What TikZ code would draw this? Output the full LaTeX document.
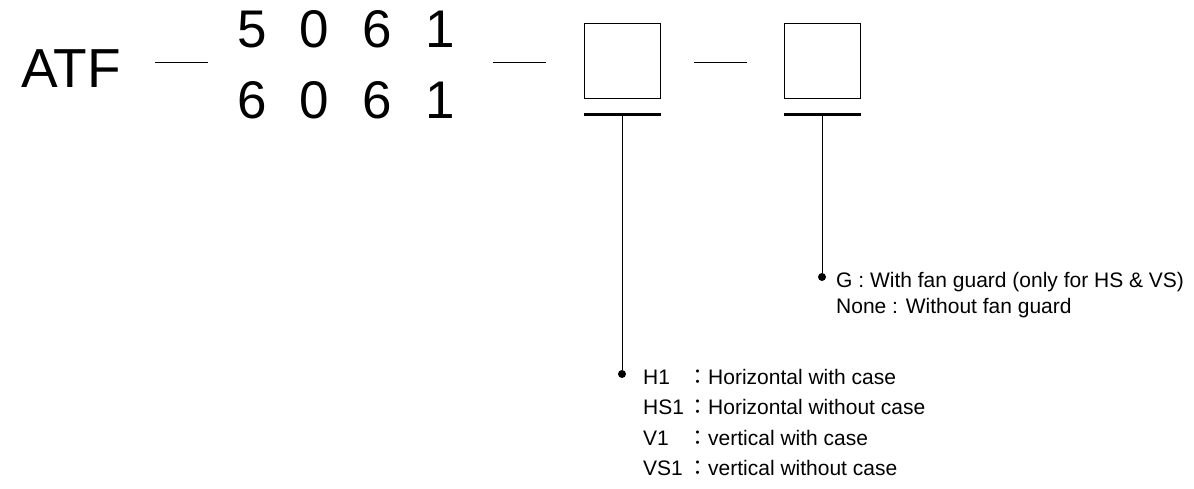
\documentclass[tikz,border=0pt]{standalone}
\usepackage{fontspec}
\setmainfont{Liberation Sans}
\newfontfamily\cjk{Noto Sans CJK JP}
\usepackage{tikz}
\usetikzlibrary{positioning, calc}

\begin{document}
\begin{tikzpicture}[
  x=1pt, y=-1pt,
  title/.style={inner sep=0pt, anchor=base west, font=\fontsize{55}{60}\selectfont},
  digits/.style={inner sep=0pt, anchor=base west, font=\fontsize{53}{58}\selectfont},
  codebox/.style={draw=black, line width=1pt, minimum width=76pt, minimum height=75pt, inner sep=0pt},
  item/.style={inner sep=0pt, anchor=base west, font=\fontsize{21}{25}\selectfont},
  pin/.style={circle, fill=black, inner sep=0pt, minimum size=8pt},
  sep/.style={line width=1pt},
  bar/.style={line width=3pt},
  lead/.style={line width=1pt},
]
  \useasboundingbox (0,0) rectangle (1194,489);

  % Model code
  \node[title] (atf) at (21,88) {ATF};
  \node[digits] (upper) at (237,48) {5\hskip33.2pt 0\hskip33.2pt 6\hskip33.2pt 1};
  \node[digits] (lower) at (237,119) {6\hskip33.2pt 0\hskip33.2pt 6\hskip33.2pt 1};
  \node[codebox] (box1) at (622,61.5) {};
  \node[codebox] (box2) at (822,61.5) {};

  % Separators
  \draw[sep] (155,63) -- (208,63);
  \draw[sep] (493,63) -- (546,63);
  \draw[sep] (694,63) -- (747,63);

  % Underlines
  \coordinate (bar1) at (622,115);
  \coordinate (bar2) at (822,115);
  \draw[bar] (584,115) -- (661,115);
  \draw[bar] (784,115) -- (861,115);

  % Option: type
  \node[pin] (pin1) at (622,374) {};
  \draw[lead] (bar1) -- (pin1);
  \foreach \code/\desc [count=\i] in {H1/Horizontal with case, HS1/Horizontal without case,
                                      V1/vertical with case, VS1/vertical without case} {
    \node[item] (code\i) at (643,{384+30.5*(\i-1)}) {\code};
    \node[item] (desc\i) at (687,{384+30.5*(\i-1)}) {{\cjk ：}\desc};
  }

  % Option: fan guard
  \node[pin] (pin2) at (822,277) {};
  \draw[lead] (bar2) -- (pin2);
  \node[item] (guard) at (836,287) {G : With fan guard (only for HS \& VS)};
  \node[item] (noguard) at (836,313) {None : Without fan guard};
\end{tikzpicture}
\end{document}
